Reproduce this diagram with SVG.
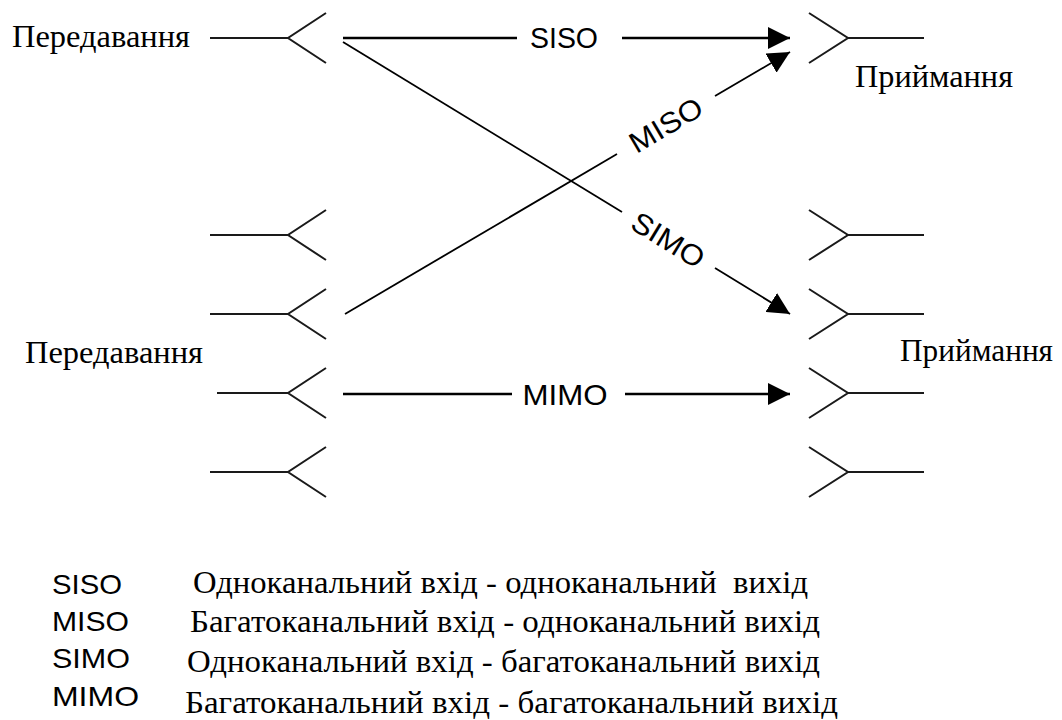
<svg xmlns="http://www.w3.org/2000/svg" width="1062" height="720" viewBox="0 0 1062 720">
  <style>
    .ant { fill: none; stroke: #1a1a1a; stroke-width: 2; stroke-linecap: butt; }
    .link { fill: none; stroke: #000; stroke-width: 2.4; }
    .diag { fill: none; stroke: #000; stroke-width: 1.8; }
    .serif { font-family: "Liberation Serif", "Times New Roman", serif; fill: #000; }
    .sans { font-family: "Liberation Sans", Arial, sans-serif; fill: #000; }
    .title { font-size: 32px; }
    .lbl { font-size: 29px; }
    .leg { font-size: 28px; }
    .legs { font-size: 31px; }
  </style>
  <defs>
    <marker id="arrow" viewBox="0 0 22 22" refX="22" refY="11" markerWidth="22" markerHeight="22" markerUnits="userSpaceOnUse" orient="auto">
      <path d="M0,0 L22,11 L0,22 z" fill="#000"/>
    </marker>
    <!-- transmit antenna: feed line then a "<" shaped element -->
    <path id="tx" d="M0,0 H78 M116,-25 L78,0 L116,25"/>
    <!-- receive antenna: ">" shaped element then feed line -->
    <path id="rx" d="M0,-25 L39,0 L0,25 M39,0 H115"/>
  </defs>

  <rect width="1062" height="720" fill="#fff"/>

  <!-- transmitter side -->
  <g id="tx-single">
    <text class="serif title" x="12" y="47" textLength="178" lengthAdjust="spacingAndGlyphs">Передавання</text>
    <use href="#tx" class="ant" x="210" y="38"/>
  </g>
  <g id="tx-array">
    <use href="#tx" class="ant" x="210" y="235"/>
    <use href="#tx" class="ant" x="210" y="314"/>
    <path class="ant" d="M217,393 H288 M326,368 L288,393 L326,418"/>
    <use href="#tx" class="ant" x="210" y="472"/>
    <text class="serif title" x="25" y="363" textLength="178" lengthAdjust="spacingAndGlyphs">Передавання</text>
  </g>

  <!-- receiver side -->
  <g id="rx-single">
    <use href="#rx" class="ant" x="809" y="38"/>
    <text class="serif title" x="855" y="87" textLength="158" lengthAdjust="spacingAndGlyphs">Приймання</text>
  </g>
  <g id="rx-array">
    <use href="#rx" class="ant" x="809" y="235"/>
    <use href="#rx" class="ant" x="809" y="314"/>
    <use href="#rx" class="ant" x="809" y="393"/>
    <use href="#rx" class="ant" x="809" y="472"/>
    <text class="serif title" x="900" y="361" textLength="153" lengthAdjust="spacingAndGlyphs">Приймання</text>
  </g>

  <!-- links -->
  <g id="connectors">
    <!-- SISO -->
    <line class="link" x1="343" y1="38" x2="517" y2="38"/>
    <line class="link" x1="622" y1="38" x2="790" y2="38" marker-end="url(#arrow)"/>
    <text class="sans lbl" x="564" y="48" text-anchor="middle" textLength="68" lengthAdjust="spacingAndGlyphs">SISO</text>

    <!-- MISO -->
    <line class="diag" x1="345" y1="314" x2="617" y2="154"/>
    <line class="diag" x1="715" y1="96" x2="790" y2="52" marker-end="url(#arrow)"/>
    <text class="sans lbl" transform="translate(666,125) rotate(-30.5)" x="0" y="10" text-anchor="middle" textLength="80" lengthAdjust="spacingAndGlyphs">MISO</text>

    <!-- SIMO -->
    <line class="diag" x1="343" y1="42" x2="622" y2="212"/>
    <line class="diag" x1="715" y1="268" x2="790" y2="314" marker-end="url(#arrow)"/>
    <text class="sans lbl" transform="translate(668,240) rotate(31.3)" x="0" y="10" text-anchor="middle" textLength="80" lengthAdjust="spacingAndGlyphs">SIMO</text>

    <!-- MIMO -->
    <line class="link" x1="343" y1="394" x2="512" y2="394"/>
    <line class="link" x1="625" y1="394" x2="790" y2="394" marker-end="url(#arrow)"/>
    <text class="sans lbl" x="565" y="405" text-anchor="middle" textLength="85" lengthAdjust="spacingAndGlyphs">MIMO</text>
  </g>

  <!-- legend -->
  <g id="legend">
    <text class="sans leg" x="52" y="594" textLength="70" lengthAdjust="spacingAndGlyphs">SISO</text>
    <text class="sans leg" x="52" y="631" textLength="77" lengthAdjust="spacingAndGlyphs">MISO</text>
    <text class="sans leg" x="52" y="668" textLength="78" lengthAdjust="spacingAndGlyphs">SIMO</text>
    <text class="sans leg" x="52" y="706" textLength="87" lengthAdjust="spacingAndGlyphs">MIMO</text>

    <text class="serif legs" x="193" y="593" textLength="615" lengthAdjust="spacingAndGlyphs" xml:space="preserve">Одноканальний вхід - одноканальний  вихід</text>
    <text class="serif legs" x="190" y="632" textLength="630" lengthAdjust="spacingAndGlyphs">Багатоканальний вхід - одноканальний вихід</text>
    <text class="serif legs" x="187" y="672" textLength="633" lengthAdjust="spacingAndGlyphs">Одноканальний вхід - багатоканальний вихід</text>
    <text class="serif legs" x="185" y="713" textLength="653" lengthAdjust="spacingAndGlyphs">Багатоканальний вхід - багатоканальний вихід</text>
  </g>
</svg>
